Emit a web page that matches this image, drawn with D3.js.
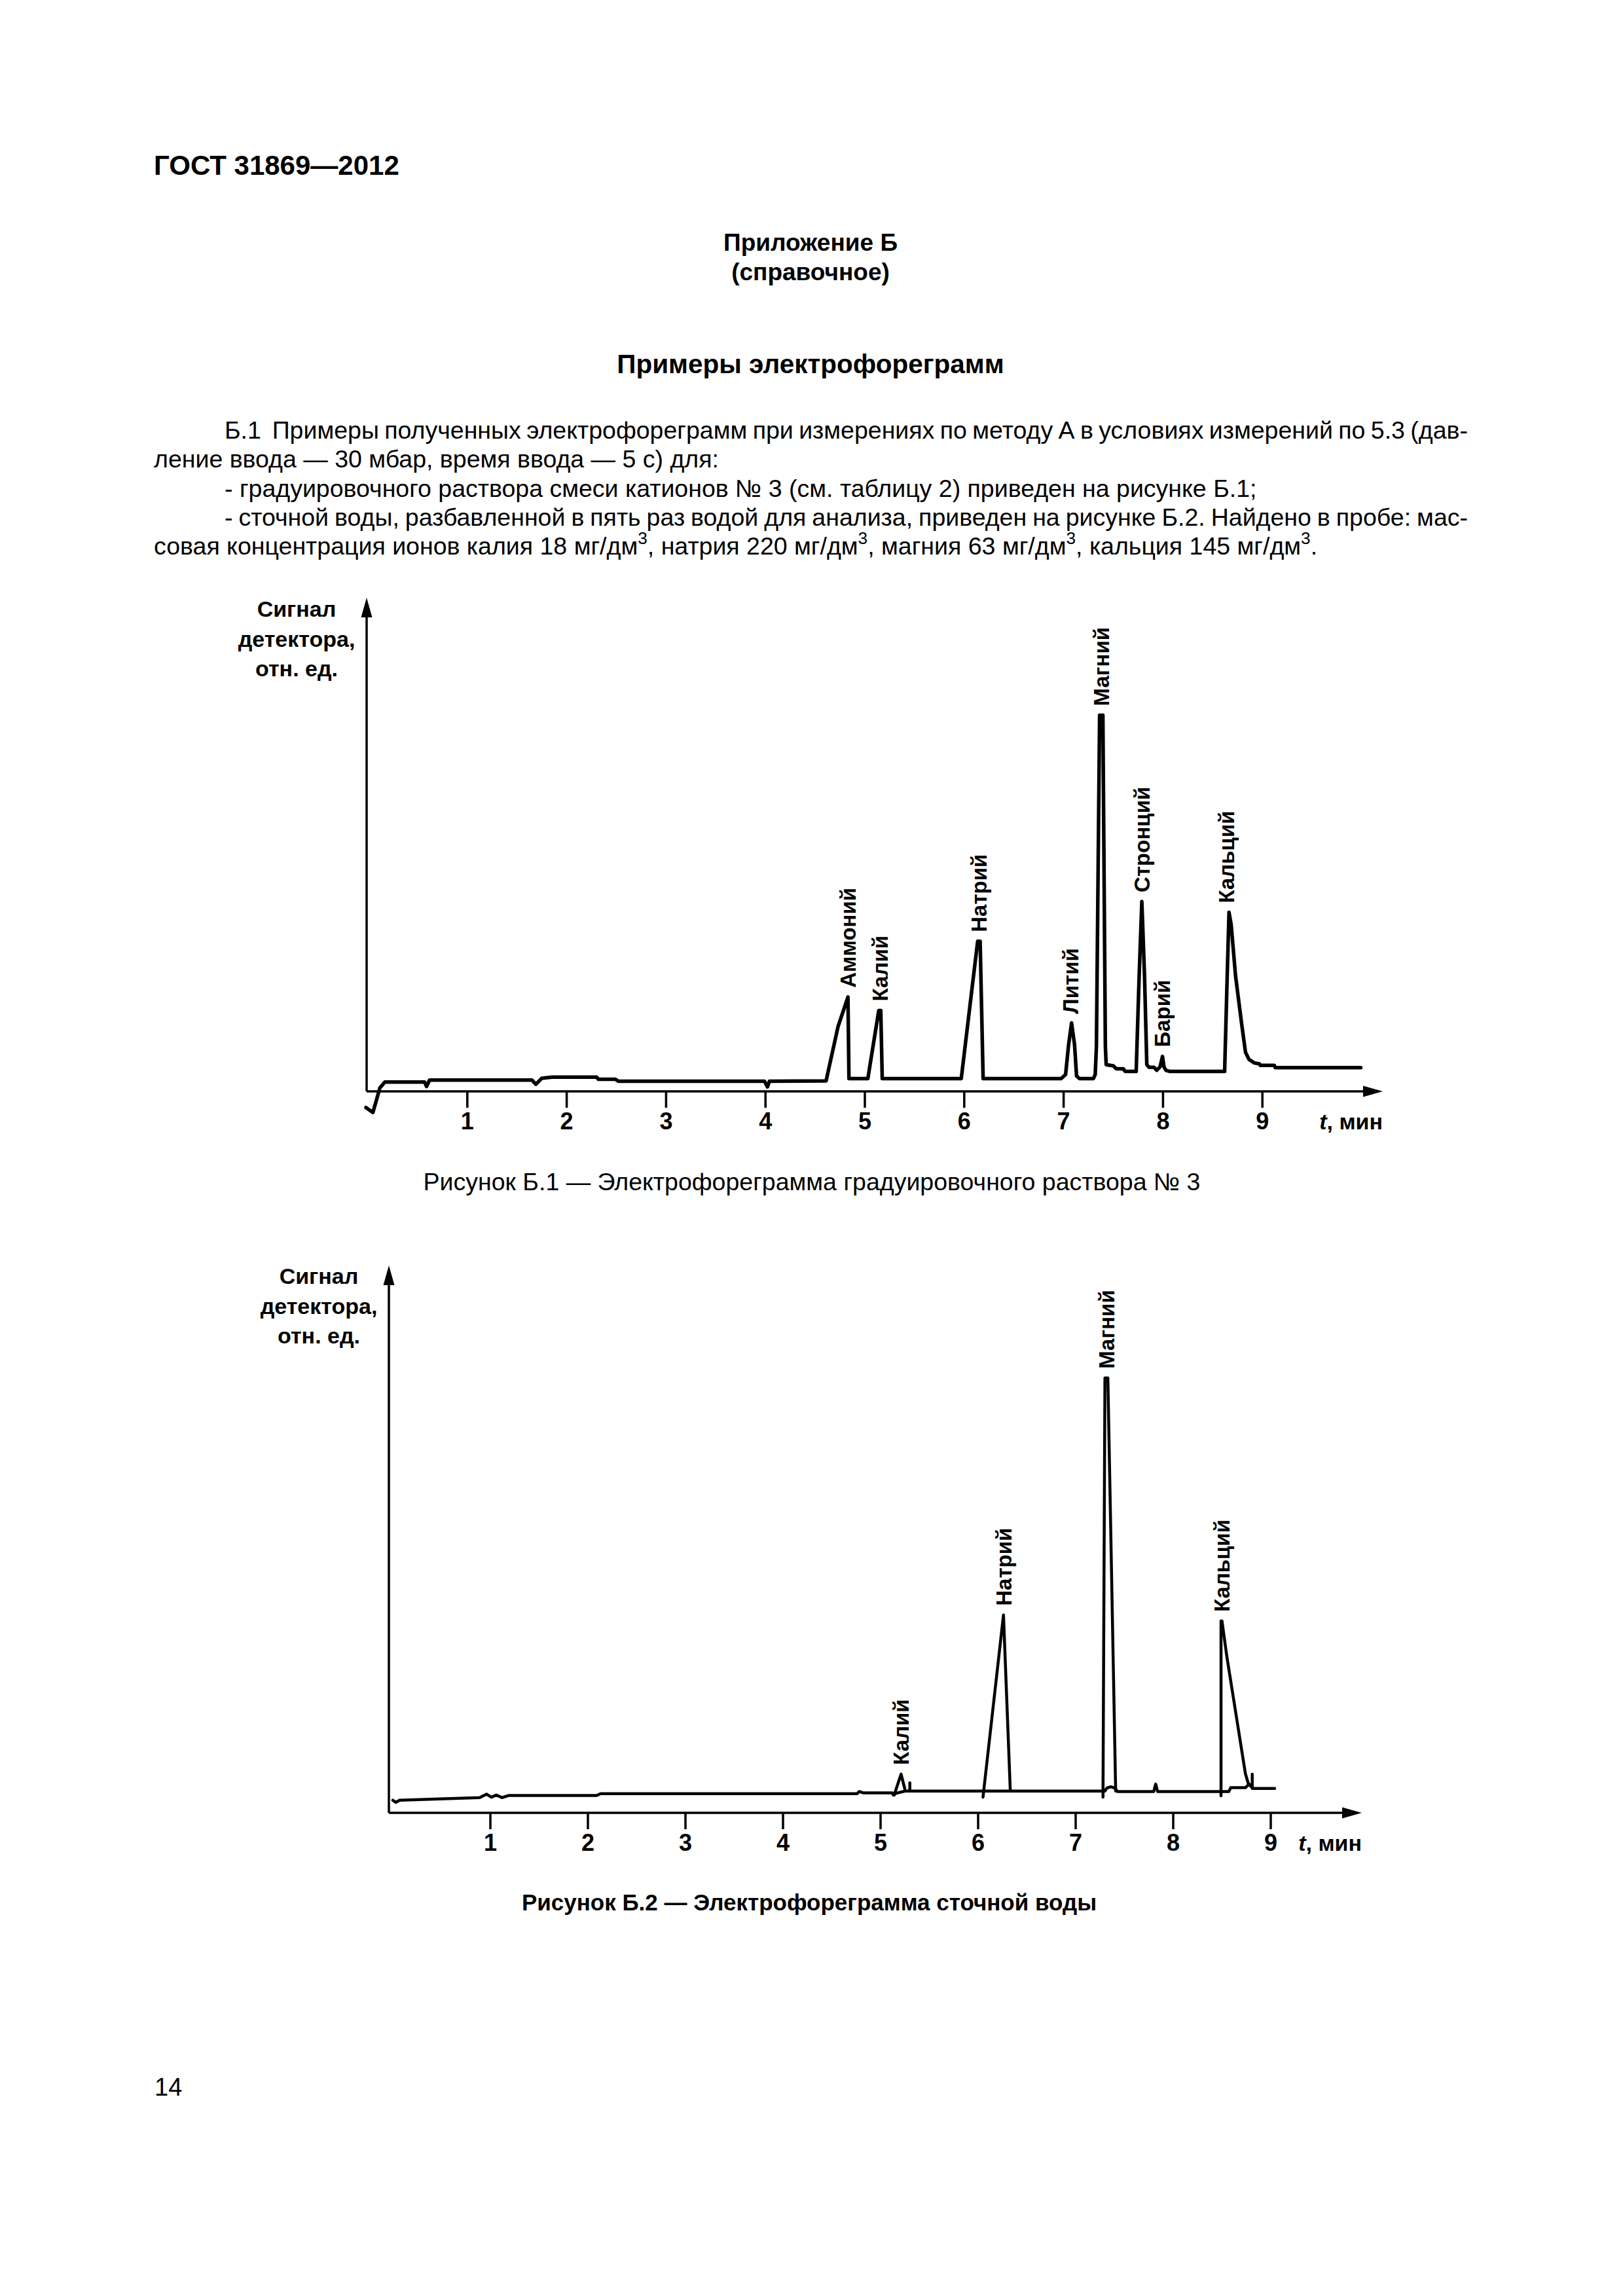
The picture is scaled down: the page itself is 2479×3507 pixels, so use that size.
<!DOCTYPE html>
<html><head><meta charset="utf-8">
<script src="https://cdn.jsdelivr.net/npm/d3@7"></script>
<style>html,body{margin:0;padding:0;background:#fff;} svg{display:block;}</style>
</head><body><div id="page"></div>
<script>
// ================= DATA =================
const headerCode = "ГОСТ 31869—2012";
const appendixTitle = ["Приложение Б", "(справочное)"];
const sectionTitle = "Примеры электрофореграмм";
const bodyLines = [
  "Б.1  Примеры полученных электрофореграмм при измерениях по методу А в условиях измерений по 5.3 (дав-",
  "ление ввода — 30 мбар, время ввода — 5 с) для:",
  "- градуировочного раствора смеси катионов № 3 (см. таблицу 2) приведен на рисунке Б.1;",
  "- сточной воды, разбавленной в пять раз водой для анализа, приведен на рисунке Б.2. Найдено в пробе: мас-"
];
const lastLineParts = ["совая концентрация ионов калия 18 мг/дм", "3", ", натрия 220 мг/дм", "3", ", магния 63 мг/дм", "3", ", кальция 145 мг/дм", "3", "."];
const caption1 = "Рисунок Б.1 — Электрофореграмма градуировочного раствора № 3";
const caption2 = "Рисунок Б.2 — Электрофореграмма сточной воды";
const pageNumber = "14";

const tickValues = [1, 2, 3, 4, 5, 6, 7, 8, 9];
const tickLabels = ["1", "2", "3", "4", "5", "6", "7", "8", "9"];
const yAxisLabel = ["Сигнал", "детектора,", "отн. ед."];
const xAxisVar = "t";
const xAxisUnit = ", мин";

// Figure B.1 — calibration solution No 3: [time, min ; signal, rel. units]
const fig1Trace = [
  [-0.02,-4.3],[0.05,-5.6],[0.12,0.9],[0.17,2.5],[0.57,2.5],[0.59,1.3],[0.62,3.0],
  [1.65,3.0],[1.69,1.9],[1.75,3.5],[1.85,3.8],[2.30,3.8],[2.32,3.2],[2.49,3.2],[2.52,2.7],
  [3.99,2.7],[4.02,1.2],[4.04,2.7],[4.61,2.8],[4.73,17.2],[4.83,25.1],[4.84,3.4],
  [5.03,3.4],[5.14,21.5],[5.16,21.5],[5.175,3.4],
  [5.97,3.4],[6.135,39.9],[6.16,39.9],[6.19,3.4],
  [6.975,3.4],[7.02,4.5],[7.05,12.4],[7.08,18.2],[7.11,12.4],[7.13,4.1],[7.16,3.4],
  [7.30,3.4],[7.318,4.5],[7.33,12],[7.362,100],[7.395,100],[7.42,12],[7.428,7.1],
  [7.50,6.8],[7.53,6.0],[7.60,6.0],[7.62,5.3],[7.73,5.3],
  [7.76,30.7],[7.787,50.5],[7.814,30.7],[7.837,7.1],[7.86,6.4],[7.91,6.4],[7.936,5.6],
  [7.97,6.5],[7.995,9.3],[8.01,6.5],[8.03,5.6],[8.07,5.3],
  [8.62,5.3],[8.646,30.7],[8.664,47.6],[8.686,44.3],[8.73,30.7],[8.79,18.2],[8.83,10.4],
  [8.865,8.5],[8.92,7.55],[8.97,7.3],[8.98,6.9],[9.12,6.9],[9.13,6.3],[9.99,6.3]
];
const fig1PeakNames   = ["Аммоний", "Калий", "Натрий", "Литий", "Магний", "Стронций", "Барий", "Кальций"];
const fig1PeakTimes   = [4.83, 5.15, 6.15, 7.07, 7.38, 7.787, 7.99, 8.64];
const fig1PeakHeights = [25.1, 21.5, 39.9, 18.2, 100, 50.5, 9.3, 47.6];

// Figure B.2 — waste water
const fig2Baseline = [
  [0.00,2.9],[0.03,2.4],[0.07,2.9],[0.89,3.5],[0.96,4.3],[1.01,3.6],[1.06,4.1],[1.12,3.5],
  [1.19,4.0],[2.09,4.0],[2.13,4.4],[4.76,4.4],[4.78,4.9],[4.82,4.6],[5.12,4.6],[5.13,4.1],
  [5.16,4.5],[5.25,5.0],[7.30,5.0],[7.32,5.7],[7.36,6.0],[7.40,5.7],[7.43,4.9],[7.80,4.9],
  [7.82,6.6],[7.84,4.9],[8.57,4.9],[8.59,5.8],[8.74,5.8],[8.78,6.6],[8.82,5.6],[9.04,5.6]
];
const fig2Kalium   = [[5.14,4.1],[5.21,8.9],[5.25,5.4]];
const fig2KSpike   = [[5.30,5.0],[5.30,6.9]];
const fig2Natrium  = [[6.05,3.6],[6.26,45.5],[6.33,5.0]];
const fig2Magnium  = [[7.28,3.6],[7.30,100],[7.33,100],[7.41,5.0]];
const fig2Calcium  = [[8.49,3.9],[8.49,44.1],[8.50,44.1],[8.55,35.9],[8.74,9.0],[8.77,6.7],[8.80,6.0]];
const fig2CaSpike  = [[8.81,5.6],[8.81,8.9]];
const fig2PeakNames   = ["Калий", "Натрий", "Магний", "Кальций"];
const fig2PeakTimes   = [5.21, 6.26, 7.315, 8.495];
const fig2PeakHeights = [8.9, 45.5, 100, 44.1];

// ================= LAYOUT =================
const W = 2479, H = 3507;
const FONT = "'Liberation Sans', Arial, 'DejaVu Sans', sans-serif";
const svg = d3.select("#page").append("svg").attr("width", W).attr("height", H)
  .style("font-family", FONT);
svg.append("rect").attr("width", W).attr("height", H).attr("fill", "#fff");

// ---- page text ----
svg.append("text").attr("x", 235).attr("y", 267).attr("font-size", 42).attr("font-weight", "bold")
  .text(headerCode);
svg.selectAll(".appx").data(appendixTitle).join("text")
  .attr("x", 1238).attr("y", (d, i) => 383 + i * 45).attr("text-anchor", "middle")
  .attr("font-size", 37).attr("font-weight", "bold").text(d => d);
svg.append("text").attr("x", 1238).attr("y", 570).attr("text-anchor", "middle")
  .attr("font-size", 40.5).attr("font-weight", "bold").text(sectionTitle);

const bodySize = 37.5, leftMargin = 235, indent = 343, rightMargin = 2242;
const lineY = i => 670 + i * 44.3;
const bodyX = [indent, leftMargin, indent, indent];
const justified = [true, false, false, true];
bodyLines.forEach((s, i) => {
  const t = svg.append("text").attr("x", bodyX[i]).attr("y", lineY(i))
    .attr("font-size", bodySize).attr("xml:space", "preserve").text(s);
  if (justified[i]) {
    const len = t.node().getComputedTextLength();
    const n = (s.match(/ /g) || []).length;
    t.attr("word-spacing", (rightMargin - bodyX[i] - len) / n);
  }
});
{
  const t = svg.append("text").attr("x", leftMargin).attr("y", lineY(4)).attr("font-size", bodySize);
  lastLineParts.forEach((p, i) => {
    const sup = i % 2 === 1 && i < lastLineParts.length - 1;
    const ts = t.append("tspan").text(p);
    if (sup) ts.attr("font-size", bodySize * 0.7).attr("dy", -16);
    else if (i > 0) ts.attr("dy", 16);
  });
}
svg.append("text").attr("x", 1240).attr("y", 1818).attr("text-anchor", "middle")
  .attr("font-size", 37.5).text(caption1);
svg.append("text").attr("x", 1236).attr("y", 2918).attr("text-anchor", "middle")
  .attr("font-size", 35).attr("font-weight", "bold").text(caption2);
svg.append("text").attr("x", 236).attr("y", 3201).attr("font-size", 38).text(pageNumber);

// ---- chart drawer ----
function drawChart(cfg) {
  const g = svg.append("g");
  const x = d3.scaleLinear().domain([0, 10]).range(cfg.xRange);
  const y = d3.scaleLinear().domain([0, 100]).range(cfg.yRange);
  const ax = cfg.axisX, ay = y(0);
  // axes
  g.append("line").attr("x1", ax).attr("x2", ax).attr("y1", ay).attr("y2", cfg.yTop + 26)
    .attr("stroke", "#000").attr("stroke-width", 3.5);
  g.append("path").attr("d", `M${ax},${cfg.yTop} L${ax - 8.5},${cfg.yTop + 30} L${ax + 8.5},${cfg.yTop + 30} Z`)
    .attr("fill", "#000");
  g.append("line").attr("x1", ax).attr("x2", cfg.xRight - 26).attr("y1", ay).attr("y2", ay)
    .attr("stroke", "#000").attr("stroke-width", 3.5);
  g.append("path").attr("d", `M${cfg.xRight},${ay} L${cfg.xRight - 30},${ay - 8.5} L${cfg.xRight - 30},${ay + 8.5} Z`)
    .attr("fill", "#000");
  // ticks
  g.selectAll(".tk").data(tickValues).join("line")
    .attr("x1", d => x(d)).attr("x2", d => x(d)).attr("y1", ay).attr("y2", ay + 25)
    .attr("stroke", "#000").attr("stroke-width", 3.5);
  g.selectAll(".tl").data(tickValues).join("text")
    .attr("x", d => x(d)).attr("y", ay + 58).attr("text-anchor", "middle")
    .attr("font-size", 36).attr("font-weight", "bold").text((d, i) => tickLabels[i]);
  const xl = g.append("text").attr("x", cfg.xRight).attr("y", ay + 58).attr("text-anchor", "end")
    .attr("font-size", 34).attr("font-weight", "bold");
  xl.append("tspan").attr("font-style", "italic").text(xAxisVar);
  xl.append("tspan").text(xAxisUnit);
  // y label
  g.selectAll(".yl").data(yAxisLabel).join("text")
    .attr("x", ax - 107).attr("y", (d, i) => cfg.yLabelTop + i * 45.5).attr("text-anchor", "middle")
    .attr("font-size", 34).attr("font-weight", "bold").text(d => d);
  // traces
  const line = d3.line().x(d => x(d[0])).y(d => y(d[1])).curve(d3.curveLinear);
  cfg.traces.forEach(tr => {
    g.append("path").attr("d", line(tr)).attr("fill", "none").attr("stroke", "#000")
      .attr("stroke-width", cfg.lineWidth).attr("stroke-linejoin", "round").attr("stroke-linecap", "round");
  });
  // peak labels
  cfg.names.forEach((n, i) => {
    g.append("text")
      .attr("transform", `translate(${x(cfg.times[i])},${y(cfg.heights[i]) - 14}) rotate(-90)`)
      .attr("dy", "0.36em").attr("font-size", 33).attr("font-weight", "bold").text(n);
  });
}

drawChart({
  xRange: [562, 562 + 1518], yRange: [1667, 1092.5], axisX: 560, yTop: 913, xRight: 2112,
  yLabelTop: 942, lineWidth: 5.5,
  traces: [fig1Trace],
  names: fig1PeakNames, times: fig1PeakTimes, heights: fig1PeakHeights
});
drawChart({
  xRange: [600, 600 + 1490], yRange: [2769, 2104.8], axisX: 594, yTop: 1933, xRight: 2080,
  yLabelTop: 1961, lineWidth: 4.5,
  traces: [fig2Baseline, fig2Kalium, fig2KSpike, fig2Natrium, fig2Magnium, fig2Calcium, fig2CaSpike],
  names: fig2PeakNames, times: fig2PeakTimes, heights: fig2PeakHeights
});
</script>
</body></html>
